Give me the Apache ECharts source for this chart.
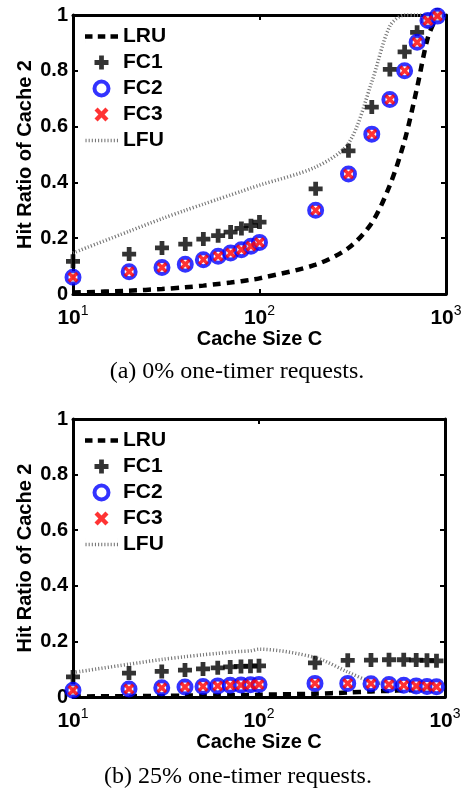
<!DOCTYPE html>
<html>
<head>
<meta charset="utf-8">
<script src="https://cdn.jsdelivr.net/npm/echarts@6/dist/echarts.min.js"></script>
<style>
html,body{margin:0;padding:0;background:#fff;}
#chart{width:465px;height:789px;}
</style>
</head>
<body>
<div id="chart"></div>
<script>
// ---- data ----
const sizes = [10,20,30,40,50,60,70,80,90,100,200,300,400,500,600,700,800,900];
const seriesNames = ['LRU','FC1','FC2','FC3','LFU'];
const yTicks = [0,0.2,0.4,0.6,0.8,1];
const xTickExponents = [1,2,3];
const captionA = '(a) 0% one-timer requests.';
const captionB = '(b) 25% one-timer requests.';
const xTitle = 'Cache Size C';
const yTitle = 'Hit Ratio of Cache 2';

// (a) 0% one-timer requests
const lruA = [0.005,0.012,0.018,0.024,0.03,0.036,0.041,0.046,0.051,0.056,0.105,0.165,0.255,0.39,0.55,0.74,0.92,1.0];
const fc1A = [0.117,0.143,0.165,0.179,0.197,0.209,0.222,0.235,0.245,0.258,0.377,0.513,0.67,0.805,0.868,0.938,0.98,1.0];
const fc2A = [0.06,0.08,0.095,0.107,0.123,0.135,0.147,0.159,0.171,0.185,0.3,0.43,0.573,0.697,0.80,0.902,0.98,0.996];
const fc3A = [0.06,0.08,0.095,0.107,0.123,0.135,0.147,0.159,0.171,0.185,0.3,0.43,0.573,0.697,0.80,0.902,0.98,0.996];
const lfuA = [0.147,0.225,0.27,0.30,0.322,0.34,0.355,0.368,0.38,0.39,0.455,0.54,0.76,0.96,1.0,1.0,1.0,1.0];

// (b) 25% one-timer requests
const lruB = [0.002,0.003,0.004,0.005,0.005,0.006,0.006,0.007,0.007,0.008,0.012,0.016,0.02,0.022,0.024,0.025,0.026,0.027];
const fc1B = [0.072,0.086,0.092,0.097,0.101,0.105,0.108,0.11,0.111,0.112,0.123,0.132,0.133,0.134,0.134,0.133,0.132,0.13];
const fc2B = [0.024,0.029,0.033,0.036,0.038,0.04,0.042,0.043,0.044,0.045,0.049,0.049,0.048,0.045,0.042,0.04,0.038,0.037];
const fc3B = [0.024,0.029,0.033,0.036,0.038,0.04,0.042,0.043,0.044,0.045,0.049,0.049,0.048,0.045,0.042,0.04,0.038,0.037];
const lfuB = [0.088,0.118,0.135,0.145,0.152,0.157,0.161,0.164,0.166,0.172,0.142,0.09,0.055,0.047,0.043,0.04,0.037,0.035];

// ---- chart ----
const FONT = '"Liberation Sans", Arial, Helvetica, sans-serif';
const SERIF = '"Liberation Serif", "Times New Roman", serif';
const PLUS = 'path://M3.3,0H6.7V3.3H10V6.7H6.7V10H3.3V6.7H0V3.3H3.3Z';
const CROSS = 'path://M0,2.2L2.2,0L5,2.8L7.8,0L10,2.2L7.2,5L10,7.8L7.8,10L5,7.2L2.2,10L0,7.8L2.8,5Z';
// legend icons for the two lines (33 x 14 box)
const LRU_ICON = 'path://M0,0H0.01V14H0Z M0,4.8H7.5V9.3H0Z M12.8,4.8H20.3V9.3H12.8Z M25.5,4.8H33V9.3H25.5Z';
let lfuIconPath = 'path://M0,0H0.01V14H0Z M32.99,0H33V14H32.99Z';
for (let x = 0.5; x < 33; x += 3.2) { lfuIconPath += ' M' + x.toFixed(2) + ',5.2H' + (x + 1.1).toFixed(2) + 'V8.8H' + x.toFixed(2) + 'Z'; }
const LFU_ICON = lfuIconPath;

const pair = (ys) => sizes.map((x, i) => [x, ys[i]]);

const grids = [
  {left: 73, top: 15, width: 373, height: 279},
  {left: 73, top: 419, width: 372, height: 278}
];

const xAxes = [];
const yAxes = [];
grids.forEach((g, gi) => {
  const common = {
    gridIndex: gi, type: 'log', logBase: 10, min: 10, max: 1000,
    axisLine: {show: true, onZero: false, lineStyle: {color: '#000', width: 3}},
    axisTick: {show: true, inside: true, length: 5, lineStyle: {color: '#000', width: 2}},
    minorTick: {show: false},
    splitLine: {show: false}
  };
  xAxes.push(Object.assign({}, common, {
    position: 'bottom',
    name: xTitle, nameLocation: 'middle', nameGap: 35,
    nameTextStyle: {fontFamily: FONT, fontWeight: 'bold', fontSize: 20, color: '#000'},
    axisLabel: {
      show: true, margin: 10, color: '#000',
      formatter: (v) => '{b|10}{s|' + Math.round(Math.log10(v)) + '}',
      rich: {
        b: {fontFamily: FONT, fontWeight: 'bold', fontSize: 21, color: '#000', lineHeight: 28},
        s: {fontFamily: FONT, fontSize: 14, color: '#000', verticalAlign: 'top', lineHeight: 14}
      }
    }
  }));
  xAxes.push(Object.assign({}, common, {position: 'top', axisLabel: {show: false}}));
  const ycommon = {
    gridIndex: gi, type: 'value', min: 0, max: 1, interval: 0.2,
    axisLine: {show: true, onZero: false, lineStyle: {color: '#000', width: 3}},
    axisTick: {show: true, inside: true, length: 5, lineStyle: {color: '#000', width: 2}},
    splitLine: {show: false}
  };
  yAxes.push(Object.assign({}, ycommon, {
    position: 'left',
    name: yTitle, nameLocation: 'middle', nameGap: 38, nameMoveOverlap: false,
    nameTextStyle: {fontFamily: FONT, fontWeight: 'bold', fontSize: 20, color: '#000'},
    axisLabel: {show: true, margin: 5, fontFamily: FONT, fontWeight: 'bold', fontSize: 20, color: '#000',
      formatter: (v) => String(Math.round(v * 10) / 10)}
  }));
  yAxes.push(Object.assign({}, ycommon, {position: 'right', axisLabel: {show: false}}));
});

function buildSeries(gi, lru, fc1, fc2, fc3, lfu) {
  const xi = gi * 2, yi = gi * 2;
  return [
    {name: 'LRU', type: 'line', xAxisIndex: xi, yAxisIndex: yi, data: pair(lru), symbol: 'none', smooth: 0.3,
      lineStyle: {color: '#000', width: 4.5, type: [8, 6]}, itemStyle: {color: '#000'}, z: 2},
    {name: 'LFU', type: 'line', xAxisIndex: xi, yAxisIndex: yi, data: pair(lfu), symbol: 'none', smooth: 0.3,
      lineStyle: {color: '#777', width: 3.5, type: [1.1, 2.1]}, itemStyle: {color: '#777'}, z: 2},
    {name: 'FC1', type: 'scatter', xAxisIndex: xi, yAxisIndex: yi, data: pair(fc1), symbol: PLUS, symbolSize: 14,
      itemStyle: {color: '#000'}, z: 3},
    {name: 'FC2', type: 'scatter', xAxisIndex: xi, yAxisIndex: yi, data: pair(fc2), symbol: 'circle', symbolSize: 13,
      itemStyle: {color: '#ffffff', borderColor: '#0000ff', borderWidth: 4}, z: 4},
    {name: 'FC3', type: 'scatter', xAxisIndex: xi, yAxisIndex: yi, data: pair(fc3), symbol: CROSS, symbolSize: 11,
      itemStyle: {color: '#ff0000'}, z: 5}
  ];
}

const legendData = [
  {name: 'LRU', icon: LRU_ICON, itemStyle: {color: '#000', borderWidth: 0}},
  {name: 'FC1', icon: PLUS, itemStyle: {color: '#000', borderWidth: 0}},
  {name: 'FC2', icon: 'circle', itemStyle: {color: '#fff', borderColor: '#0000ff', borderWidth: 4}},
  {name: 'FC3', icon: CROSS, itemStyle: {color: '#ff0000', borderWidth: 0}},
  {name: 'LFU', icon: LFU_ICON, itemStyle: {color: '#777', borderWidth: 0}}
];

const legendBase = {
  orient: 'vertical', left: 80, itemWidth: 33, itemHeight: 14, itemGap: 5,
  data: legendData, selectedMode: false,
  textStyle: {fontFamily: FONT, fontWeight: 'bold', fontSize: 21, color: '#000', lineHeight: 20}
};

const option = {
  animation: false,
  backgroundColor: '#fff',
  grid: grids,
  xAxis: xAxes,
  yAxis: yAxes,
  legend: [
    Object.assign({}, legendBase, {top: 21}),
    Object.assign({}, legendBase, {top: 425})
  ],
  graphic: [
    {type: 'text', x: 237, y: 360, style: {text: captionA, font: '24px ' + SERIF, fill: '#000', textAlign: 'center'}},
    {type: 'text', x: 238, y: 765, style: {text: captionB, font: '24px ' + SERIF, fill: '#000', textAlign: 'center'}}
  ],
  series: buildSeries(0, lruA, fc1A, fc2A, fc3A, lfuA).concat(buildSeries(1, lruB, fc1B, fc2B, fc3B, lfuB))
};

const chart = echarts.init(document.getElementById('chart'), null, {renderer: 'canvas'});
chart.setOption(option);
</script>
</body>
</html>
